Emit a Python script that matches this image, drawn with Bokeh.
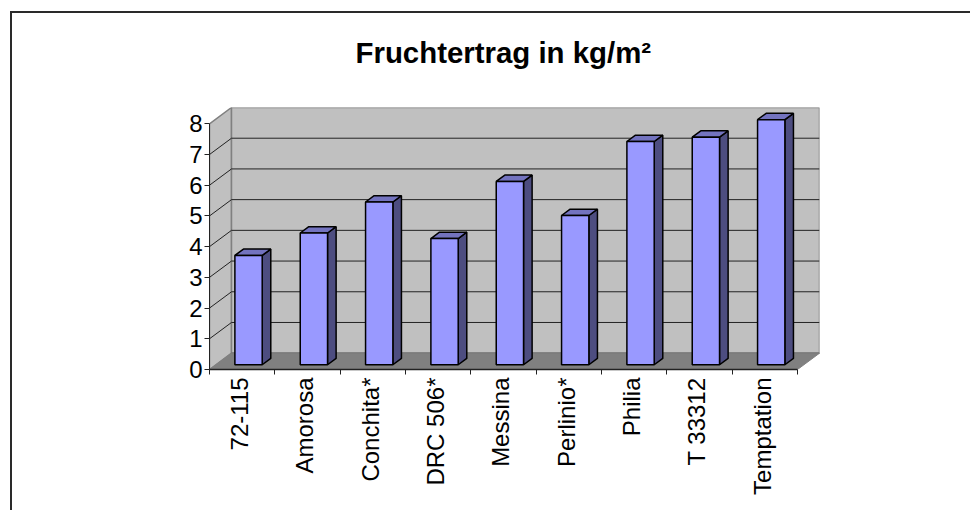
from bokeh.plotting import figure
from bokeh.models import Range1d, FixedTicker, LinearAxis, Title
from bokeh.embed import file_html
from bokeh.resources import INLINE

categories = ["72-115", "Amorosa", "Conchita*", "DRC 506*", "Messina", "Perlinio*", "Philia", "T 33312", "Temptation"]
values = [3.56, 4.29, 5.30, 4.11, 5.97, 4.86, 7.27, 7.41, 7.98]
y_ticks = [0, 1, 2, 3, 4, 5, 6, 7, 8]
title = "Fruchtertrag in kg/m²"

FONT = "Liberation Sans"
OX, OY = 0, -5        # where the plot canvas starts on the page
W, H = 970, 515
FRAME_L, FRAME_T, FRAME_R, FRAME_B = 209, 107, 819, 369   # page pixels
n = len(categories)
ymax = y_ticks[-1]
DX = n * 22 / 588         # depth of the 3D box in x units
DY = ymax * 16.3 / 245.5  # depth of the 3D box in y units
F0, F1 = 0.29, 0.68       # depth span of a bar
BW = 0.418

p = figure(width=W, height=H, output_backend="svg", toolbar_location=None,
           x_range=Range1d(0, n + DX), y_range=Range1d(0, ymax + DY),
           x_axis_type=None, y_axis_type=None,
           min_border_left=FRAME_L - OX, min_border_right=W + OX - FRAME_R,
           min_border_top=FRAME_T - OY, min_border_bottom=H + OY - FRAME_B,
           outline_line_color=None, background_fill_color=None, border_fill_color=None)
p.grid.visible = False
p.styles = {"margin-top": f"{OY}px",
            "background": "linear-gradient(#2a2a2a,#2a2a2a) 10px 16px / 100% 2px no-repeat,"
                          "linear-gradient(#2a2a2a,#2a2a2a) 10px 16px / 2px 100% no-repeat"}

# Walls and floor
p.patch([0, DX, DX, 0], [0, DY, ymax + DY, ymax], fill_color="#C0C0C0", line_color="#808080", line_width=1.5)
p.patch([DX, n + DX, n + DX, DX], [DY, DY, ymax + DY, ymax + DY], fill_color="#C0C0C0", line_color="#808080", line_width=1.5)
for t in y_ticks[1:-1]:
    p.line([0, DX, n + DX], [t, t + DY, t + DY], line_color="#222222", line_width=1)
p.line([DX, n + DX], [DY, DY], line_color="#444444", line_width=1)
p.patch([0, n, n + DX, DX], [0, 0, DY, DY], fill_color="#808080", line_color="#808080", line_width=1)

# Bars
fx0, fy0 = F0 * DX, F0 * DY
d_x, d_y = (F1 - F0) * DX, (F1 - F0) * DY
sides_x, sides_y, tops_x, tops_y, fl, fr, fb, ft = [], [], [], [], [], [], [], []
for i, v in enumerate(values):
    l = i + 0.5 - BW / 2 + fx0
    r = i + 0.5 + BW / 2 + fx0
    fl.append(l); fr.append(r); fb.append(fy0); ft.append(v + fy0)
    sides_x.append([r, r + d_x, r + d_x, r])
    sides_y.append([fy0, fy0 + d_y, v + fy0 + d_y, v + fy0])
    tops_x.append([l, r, r + d_x, l + d_x])
    tops_y.append([v + fy0, v + fy0, v + fy0 + d_y, v + fy0 + d_y])
p.patches(sides_x, sides_y, fill_color="#4D4D80", line_color="black", line_width=1.5)
p.patches(tops_x, tops_y, fill_color="#7373BF", line_color="black", line_width=1.5)
p.quad(left=fl, right=fr, bottom=fb, top=ft, fill_color="#9999FF", line_color="black", line_width=1.5)

# Axes
yax = LinearAxis(ticker=FixedTicker(ticks=y_ticks), bounds=(0, ymax),
                 major_label_text_font=FONT, major_label_text_font_size="24px", major_label_text_color="black",
                 major_tick_out=5, major_tick_in=0, minor_tick_out=0, minor_tick_in=0,
                 major_label_standoff=2, axis_line_color="#222222", major_tick_line_color="#222222")
p.add_layout(yax, "left")

centers = [i + 0.46 for i in range(n)]
xax = LinearAxis(ticker=FixedTicker(ticks=centers, minor_ticks=list(range(n + 1))), bounds=(0, n),
                 major_label_overrides={c: s for c, s in zip(centers, categories)},
                 major_label_orientation=1.5707963, major_label_text_font=FONT,
                 major_label_text_font_size="24px", major_label_text_color="black",
                 major_tick_out=0, major_tick_in=0, major_tick_line_color=None,
                 minor_tick_out=5, minor_tick_in=0, minor_tick_line_color="#222222",
                 major_label_standoff=3, axis_line_color="#222222", axis_line_width=1.5)
p.add_layout(xax, "below")

# Title
p.add_layout(Title(text=title, align="left", offset=355 - FRAME_L, vertical_align="middle", standoff=76,
                   text_font=FONT, text_font_style="bold", text_font_size="29.4px", text_color="black"), "above")

open("out.html", "w").write(file_html(p, INLINE))
